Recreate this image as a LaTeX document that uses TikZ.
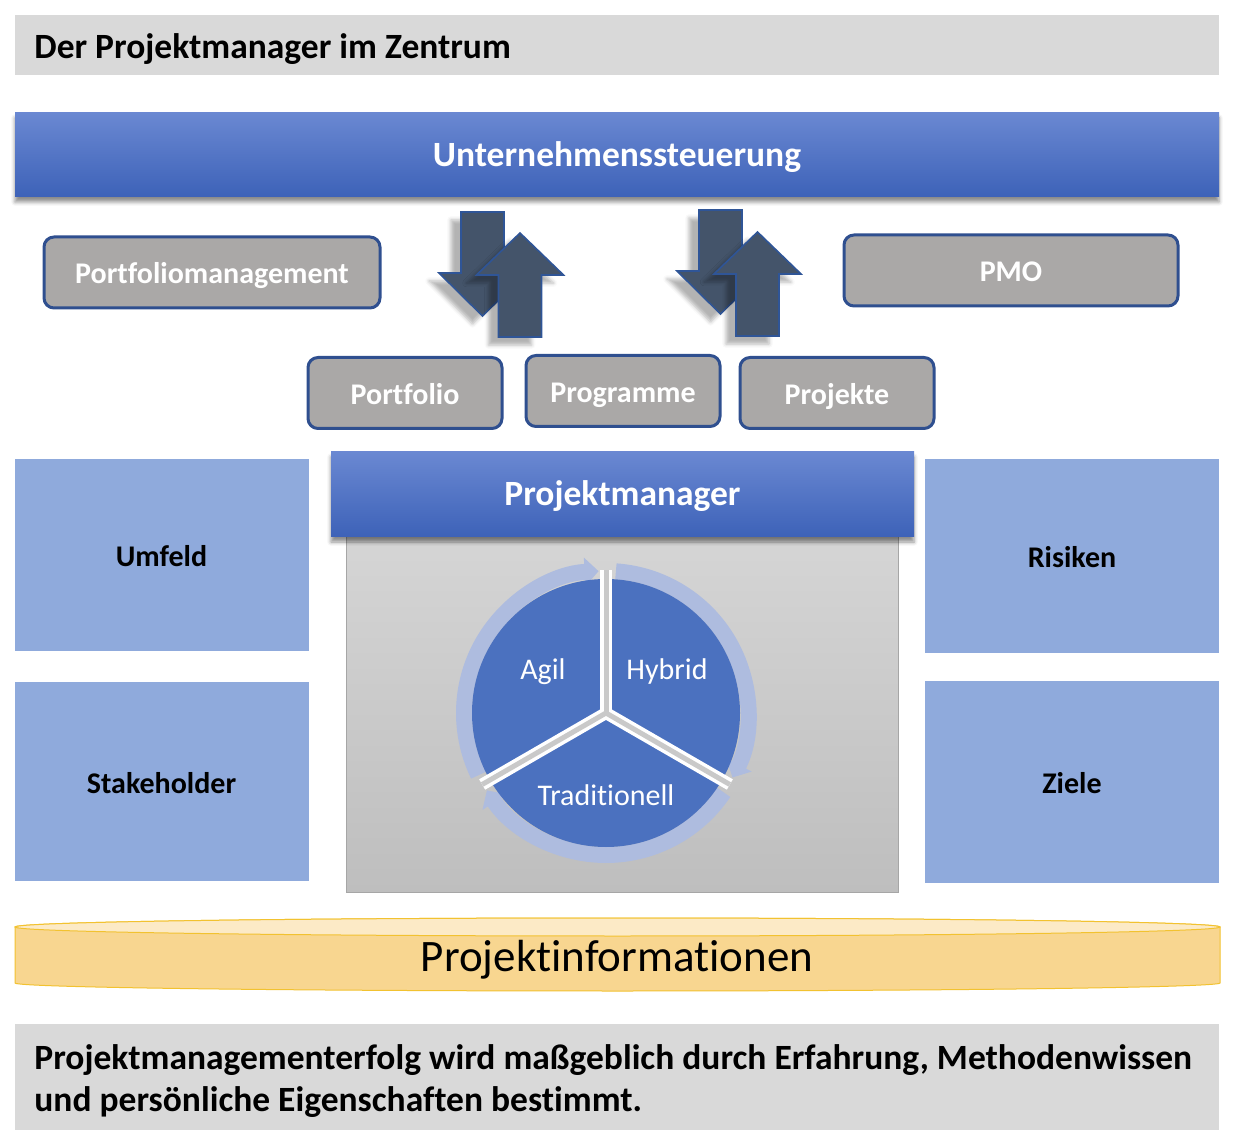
\documentclass[tikz,border=0pt]{standalone}
\usepackage{fontspec}
\setmainfont{Carlito}[Ligatures=NoCommon]
\usepackage{tikz}
\usetikzlibrary{arrows.meta,shadows.blur}
\definecolor{barhi}    {HTML}{6A88D2}
\definecolor{barlo}    {HTML}{3D62B8}
\definecolor{headgray} {HTML}{D9D9D9}
\definecolor{boxgray}  {HTML}{AAA8A7}
\definecolor{boxedge}  {HTML}{2F4F8F}
\definecolor{sideblue} {HTML}{8FAADC}
\definecolor{panelhi}  {HTML}{D5D5D5}
\definecolor{panello}  {HTML}{BEBEBE}
\definecolor{paneledge}{HTML}{A6A6A6}
\definecolor{piefill}  {HTML}{4B71BF}
\definecolor{ringblue} {HTML}{AEBCDF}
\definecolor{gapgray}  {HTML}{C9C9C9}
\definecolor{arrowfill}{HTML}{44546A}
\definecolor{arrowedge}{HTML}{2F5597}
\definecolor{cylbody}  {HTML}{F8D690}
\definecolor{cyltop}   {HTML}{FCEAC6}
\definecolor{cyledge}  {HTML}{F2C230}
\newcommand\headfont{\fontsize{17.75}{21}\selectfont\bfseries}
\newcommand\boxfont{\fontsize{15}{18}\selectfont\bfseries}
\newcommand\piefont{\fontsize{15}{18}\selectfont}
\newcommand\cylfont{\fontsize{22.5}{27}\selectfont}

\begin{document}
\begin{tikzpicture}[x=0.5pt,y=-0.5pt,
  oneline/.style={text height=1.15em,text depth=0em},
  bluebar/.style={oneline,top color=barhi,bottom color=barlo,text=white,font=\headfont,
    blur shadow={shadow xshift=0pt,shadow yshift=-2.5pt,shadow opacity=45}},
  graybox/.style={oneline,fill=boxgray,draw=boxedge,line width=1.5pt,rounded corners=5pt,
    text=white,font=\boxfont},
  sidebox/.style={oneline,fill=sideblue,font=\boxfont},
  panel/.style={top color=panelhi,bottom color=panello,draw=paneledge,line width=0.5pt},
  blockarrow/.style={fill=arrowfill,draw=arrowedge,line width=0.8pt,
    blur shadow={shadow xshift=-5pt,shadow yshift=-4pt,shadow opacity=30}},
  ring/.style={ringblue,line width=8pt,-{Triangle[width=14pt,length=7pt]}}]
  \useasboundingbox (0,0) rectangle (1238,1144);
  \def\blockdown#1#2{%
    \draw[blockarrow] (#1-21.5,#2) -- ++(43,0) -- ++(0,61) -- ++(22,0)
      -- ++(-43.5,43) -- ++(-43.5,-43) -- ++(22,0) -- cycle;}
  \def\blockup#1#2{%
    \draw[blockarrow] (#1-21.5,#2) -- ++(43,0) -- ++(0,-62) -- ++(22,0)
      -- ++(-43.5,-42) -- ++(-43.5,42) -- ++(22,0) -- cycle;}

  \node[fill=headgray,minimum width=602pt,minimum height=30pt] (headbox) at (617,45) {};
  \node[oneline,anchor=west,inner sep=0pt,font=\headfont] (head) at (34,47) {Der Projektmanager im Zentrum};

  \node[bluebar,minimum width=602pt,minimum height=42pt] (unt) at (617,155) {Unternehmenssteuerung};

  \blockdown{482.5}{212}
  \blockup{520}{337}
  \blockdown{720.5}{210}
  \blockup{757.5}{336}

  \foreach \n/\cx/\cy/\w/\t in {pfm/212/272.5/168/Portfoliomanagement,
                                pmo/1011/270.5/167/PMO,
                                pf/405/393/97/Portfolio,
                                prg/623/391/97/Programme,
                                prj/837/393/97/Projekte}{
    \node[graybox,minimum width=\w pt,minimum height=35.5pt] (\n) at (\cx,\cy) {\t};}

  \foreach \n/\cx/\cy/\h/\t in {umf/161.5/555/96/Umfeld,
                                stk/161.5/781.5/99.5/Stakeholder,
                                ris/1072/556/97/Risiken,
                                zie/1072/782/101/Ziele}{
    \node[sidebox,minimum width=147pt,minimum height=\h pt] (\n) at (\cx,\cy) {\t};}

  \node[panel,minimum width=276pt,minimum height=177.5pt] (pnl) at (622,714.5) {};
  \node[bluebar,minimum width=291.5pt,minimum height=42.5pt] (pm) at (622.5,494.5) {Projektmanager};

  \begin{scope}[shift={(606,713)},y=0.5pt]
    \draw[ring] (206:142) arc[start angle=206,end angle=93,radius=142];
    \draw[ring] (86:142) arc[start angle=86,end angle=-27,radius=142];
    \draw[ring] (-34:142) arc[start angle=-34,end angle=-147,radius=142];
    \fill[piefill] (0,0) circle[radius=134];
    \foreach \a in {90,210,330}{\draw[white,line width=6pt] (0,0) -- (\a:143);}
    \foreach \a in {90,210,330}{\draw[gapgray,line width=2.5pt] (0,0) -- (\a:143);}
    \node[oneline,text=white,font=\piefont] (agil) at (-63,45) {Agil};
    \node[oneline,text=white,font=\piefont] (hybrid) at (61,45) {Hybrid};
    \node[oneline,text=white,font=\piefont] (trad) at (0,-81) {Traditionell};
  \end{scope}

  \begin{scope}[shift={(617.5,955)},y=0.5pt]
    \filldraw[fill=cylbody,draw=cyledge,line width=0.5pt]
      (-602.5,28) -- (-602.5,-28) arc[start angle=180,end angle=360,x radius=602.5,y radius=8]
      -- (602.5,28) arc[start angle=0,end angle=180,x radius=602.5,y radius=9] -- cycle;
    \filldraw[fill=cyltop,draw=cyledge,line width=0.5pt] (0,28) ellipse[x radius=602.5,y radius=9];
  \end{scope}
  \node[oneline,font=\cylfont] (info) at (617,960) {Projektinformationen};

  \node[fill=headgray,minimum width=602pt,minimum height=53pt] (footbox) at (617,1077) {};
  \node[anchor=west,inner sep=0pt,align=left,font=\headfont] (foot) at (34,1081)
    {Projektmanagementerfolg wird maßgeblich durch Erfahrung, Methodenwissen\\
     und persönliche Eigenschaften bestimmt.};
\end{tikzpicture}
\end{document}
